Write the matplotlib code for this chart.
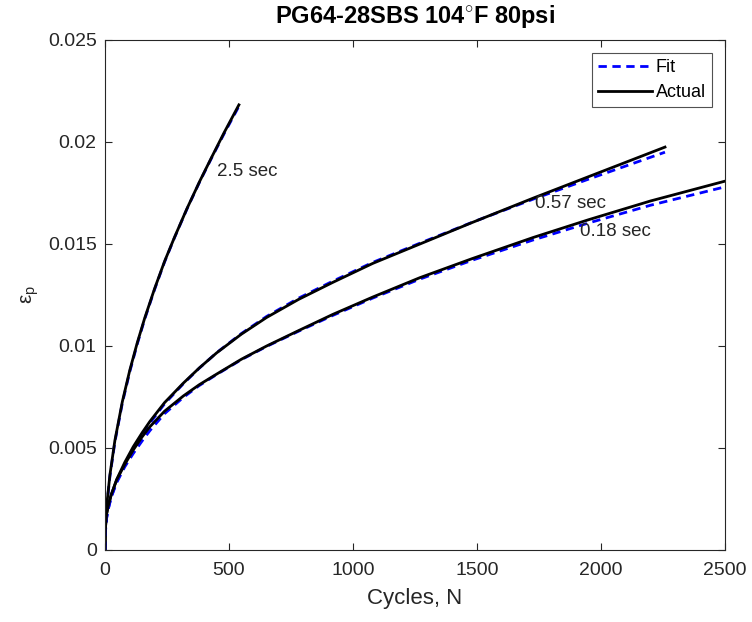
import matplotlib
matplotlib.use('Agg')
import matplotlib.pyplot as plt

plt.rcParams['font.family'] = ['Liberation Sans', 'DejaVu Sans']
plt.rcParams['mathtext.fontset'] = 'custom'
plt.rcParams['mathtext.rm'] = 'Liberation Sans'
plt.rcParams['mathtext.it'] = 'Liberation Sans'

# 2.5 sec loading time
n_25 = [0, 1, 2, 5, 10, 20, 40, 70, 100, 130, 160, 200, 240, 280, 330, 383,
        430, 480, 540]
act_25 = [0, 0.00070, 0.00107, 0.00175, 0.00254, 0.00369, 0.00537, 0.00727,
          0.00881, 0.01015, 0.01136, 0.01281, 0.01414, 0.01532, 0.01672,
          0.01810, 0.01925, 0.02045, 0.02182]
fit_25 = [0, 0.00062, 0.00100, 0.00168, 0.00247, 0.00362, 0.00530, 0.00720,
          0.00874, 0.01009, 0.01131, 0.01277, 0.01411, 0.01530, 0.01670,
          0.01808, 0.01922, 0.02040, 0.02175]

# 0.57 sec loading time
n_57 = [0, 1, 3, 7, 13, 25, 47, 80, 114, 150, 181, 240, 316, 380, 450, 550,
        652, 780, 919, 1080, 1270, 1480, 1727, 1950, 2258]
act_57 = [0, 0.00080, 0.00130, 0.00180, 0.00215, 0.00270, 0.00345, 0.00430,
          0.00506, 0.00575, 0.00630, 0.00722, 0.00818, 0.00892, 0.00966,
          0.01058, 0.01140, 0.01228, 0.01312, 0.01405, 0.01500, 0.01605,
          0.01725, 0.01830, 0.01975]
fit_57 = [0, 0.00060, 0.00110, 0.00160, 0.00200, 0.00260, 0.00335, 0.00420,
          0.00496, 0.00566, 0.00622, 0.00716, 0.00815, 0.00891, 0.00967,
          0.01061, 0.01145, 0.01234, 0.01318, 0.01410, 0.01504, 0.01606,
          0.01720, 0.01818, 0.01950]

# 0.18 sec loading time
n_18 = [0, 1, 3, 7, 13, 25, 47, 80, 114, 150, 181, 240, 316, 380, 450, 550,
        652, 780, 919, 1080, 1270, 1480, 1727, 1950, 2200, 2500]
act_18 = [0, 0.00080, 0.00130, 0.00180, 0.00215, 0.00270, 0.00343, 0.00420,
          0.00490, 0.00555, 0.00604, 0.00680, 0.00755, 0.00810, 0.00862,
          0.00935, 0.01000, 0.01075, 0.01155, 0.01240, 0.01335, 0.01428,
          0.01532, 0.01619, 0.01711, 0.01808]
fit_18 = [0, 0.00060, 0.00110, 0.00160, 0.00200, 0.00258, 0.00330, 0.00408,
          0.00473, 0.00535, 0.00585, 0.00668, 0.00748, 0.00806, 0.00860,
          0.00933, 0.00998, 0.01072, 0.01150, 0.01235, 0.01328, 0.01420,
          0.01520, 0.01603, 0.01690, 0.01780]

labels = ['2.5 sec', '0.57 sec', '0.18 sec']
label_pos = [(452, 0.01853), (1734, 0.0170), (1915, 0.01559)]

fig = plt.figure(figsize=(7.52, 6.22), dpi=100)
ax = fig.add_axes([0.1396, 0.1158, 0.8245, 0.8199])

curves = [(n_25, act_25, fit_25), (n_57, act_57, fit_57), (n_18, act_18, fit_18)]
for n, act, fit in curves:
    hf, = ax.plot(n, fit, color='b', ls=(0, (3, 2)), lw=2)
    ha, = ax.plot(n, act, color='k', lw=2)

for lab, (x, y) in zip(labels, label_pos):
    ax.text(x, y, lab, fontsize=13.5, color='#262626', va='center', ha='left')

ax.set_xlim(0, 2500)
ax.set_ylim(0, 0.025)
ax.set_xticks([0, 500, 1000, 1500, 2000, 2500])
ax.set_yticks([0, 0.005, 0.01, 0.015, 0.02, 0.025])
ax.set_yticklabels(['0', '0.005', '0.01', '0.015', '0.02', '0.025'])
ax.tick_params(direction='in', top=True, right=True, labelsize=14,
               colors='#262626', length=5)
ax.tick_params(axis='x', pad=9)
ax.tick_params(axis='y', pad=6)
for s in ax.spines.values():
    s.set_color('#262626')
ax.set_xlabel('Cycles, N', fontsize=16, color='#262626', labelpad=6)
ax.set_ylabel(r'$\epsilon_p$', fontsize=15, color='#262626', labelpad=5)
ax.set_title(r'PG64-28SBS 104$^{\circ}$F 80psi', fontsize=17,
             fontweight='bold', pad=12)

leg = ax.legend([hf, ha], ['Fit', 'Actual'], loc='upper right', fontsize=13,
                fancybox=False, edgecolor='#262626', handlelength=3.0,
                borderaxespad=0.7, labelspacing=0.45, borderpad=0.35,
                handletextpad=0.2)
leg.get_frame().set_linewidth(0.8)

fig.savefig('out.png', dpi=100)
